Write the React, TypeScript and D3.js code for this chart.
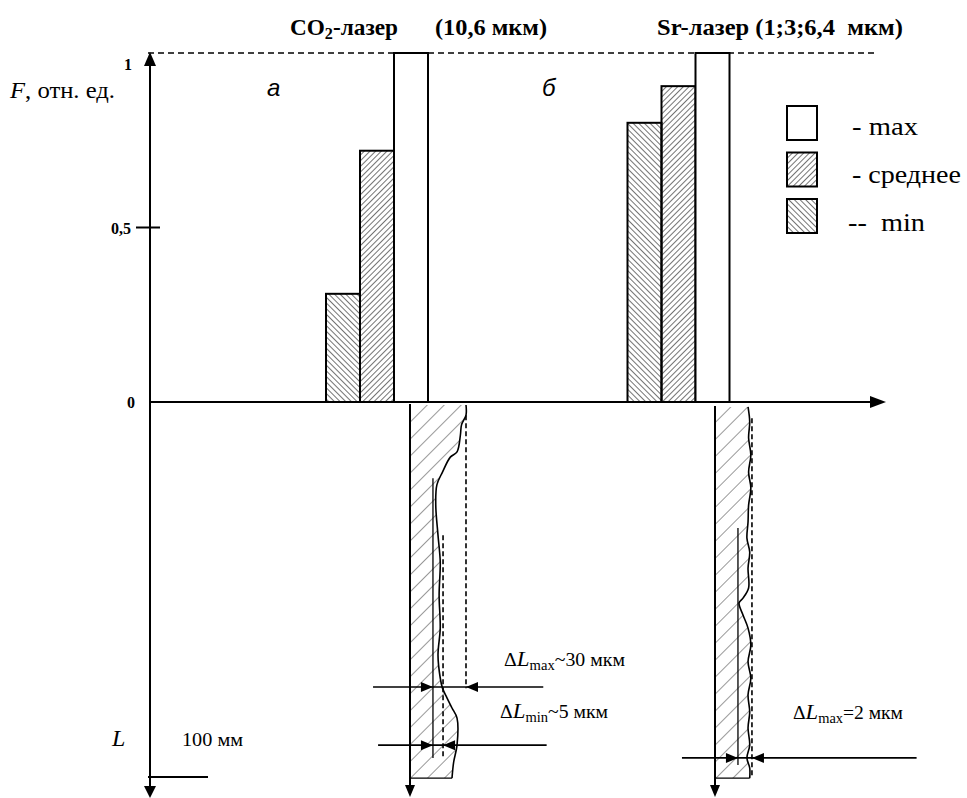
import * as d3 from 'd3';

const W = 967;
const H = 798;

// bar chart data (F, relative units)
const lasers = ['CO2', 'Sr'];
const series = ['min', 'avg', 'max'];
const minValues = [0.31, 0.8];
const avgValues = [0.72, 0.905];
const maxValues = [1, 1];
const yTicks = [0, 0.5, 1];
const yTickLabels = ['0', '0,5', '1'];
const panelLetters = ['а', 'б'];
const legendKeys = ['max', 'avg', 'min'];
const legendLabels = ['- max', '- среднее', '--  min'];

// cut profiles: [depth, offset from wall in мкм]
const profileA = [
  [0.8, 50], [3.5, 50], [6.1, 46], [8.8, 45], [13.3, 42], [14.7, 36], [18.7, 29],
  [22.1, 24], [27.5, 23], [35.5, 25], [42.7, 27], [51.5, 26], [60.3, 27], [67.5, 25],
  [73.6, 27], [76.3, 29], [78.9, 33], [81.6, 37.5], [84.3, 42], [91.5, 42], [96, 39], [100.3, 37.5],
];
const profileB = [
  [1.3, 29.5], [5.3, 31], [9.6, 30], [14.1, 32], [18.7, 30], [22.9, 32], [27.5, 30],
  [32, 29.5], [36.3, 28.5], [40, 31], [44.3, 29.5], [49.6, 30], [52.3, 25], [53.6, 21.5],
  [56.8, 25], [60.3, 29.5], [64.8, 32], [69.3, 29.5], [73.6, 32], [78.1, 29.5], [82.7, 31],
  [86.9, 29.5], [91.5, 31], [94.9, 28.5], [97.6, 31], [100.3, 31],
];
// guide lines: [offset, depth from, depth to, dashed]
const guidesA = [[50, 3.5, 76.3, 1], [20.5, 20.3, 94.9, 0], [29.5, 35.5, 94.7, 1]];
const guidesB = [[33, 4.3, 100.3, 1], [20.5, 33.6, 96.8, 0]];
// measurement lines: [depth, from, to, right arrow tip, left arrow tip]
const measA = [[76, -33, 119, 20.5, 50], [91.5, -28.5, 122, 20.5, 29.5]];
const measB = [[94.9, -29.5, 180, 20.5, 33]];

const serif = '"Liberation Serif", "Times New Roman", Times, serif';
const sans = '"Liberation Sans", Arial, sans-serif';

const y = d3.scaleLinear().domain([0, 1]).range([402, 53]);
const xGroup = d3.scalePoint().domain(lasers).range([377, 678.5]);
const xInner = d3.scaleBand().domain(series).range([-51, 51]);
const depth = d3.scaleLinear().domain([0, 100]).range([402, 777]);
const lat = d3.scaleLinear().domain([0, 50]).range([0, 56]);
const wallX = d3.scalePoint().domain(lasers).range([410, 715]);

const fills: Record<string, string> = { max: 'white', avg: 'url(#hatchAvg)', min: 'url(#hatchMin)' };

const tri = (x: number, yy: number, dir: number, len = 12, hw = 5) =>
  `${x},${yy} ${x - dir * len},${yy - hw} ${x - dir * len},${yy + hw}`;
const triV = (x: number, yy: number, dir: number, len = 12, hw = 5) =>
  `${x},${yy} ${x - hw},${yy - dir * len} ${x + hw},${yy - dir * len}`;

function Section({ id, wall, profile, guides, meas }: any) {
  const line = d3.line<number[]>()
    .x(d => wall + lat(d[1]))
    .y(d => depth(d[0]))
    .curve(d3.curveCatmullRom);
  const first = profile[0];
  const last = profile[profile.length - 1];
  const area = d3.area<number[]>()
    .x0(wall)
    .x1(d => wall + lat(d[1]))
    .y(d => depth(d[0]))
    .curve(d3.curveCatmullRom);
  return (
    <g>
      <clipPath id={id}>
        <path d={area(profile) || ''} />
      </clipPath>
      <rect x={wall} y={depth(first[0])} width={80} height={depth(last[0]) - depth(first[0])}
        fill="url(#hatchWide)" clipPath={`url(#${id})`} />
      <path d={line(profile) || ''} fill="none" stroke="#000" strokeWidth={1.6} />
      <line x1={wall} x2={wall + lat(last[1])} y1={depth(last[0])} y2={depth(last[0])} stroke="#000" strokeWidth={1.2} />
      <line x1={wall} x2={wall} y1={depth(first[0]) - 1} y2={788} stroke="#000" strokeWidth={2} />
      <polygon points={triV(wall, 797, 1)} fill="#000" />
      {guides.map((g: number[], i: number) => (
        <line key={i} x1={wall + lat(g[0])} x2={wall + lat(g[0])} y1={depth(g[1])} y2={depth(g[2])}
          stroke="#000" strokeWidth={g[3] ? 1.6 : 1.3} strokeDasharray={g[3] ? '5,3' : undefined} />
      ))}
      {meas.map((m: number[], i: number) => (
        <g key={i}>
          <line x1={wall + lat(m[1])} x2={wall + lat(m[2])} y1={depth(m[0])} y2={depth(m[0])} stroke="#000" strokeWidth={1.6} />
          <polygon points={tri(wall + lat(m[3]), depth(m[0]), 1)} fill="#000" />
          <polygon points={tri(wall + lat(m[4]), depth(m[0]), -1)} fill="#000" />
        </g>
      ))}
    </g>
  );
}

export default function App() {
  const values: Record<string, number[]> = { min: minValues, avg: avgValues, max: maxValues };
  const letterX = [267, 542];
  return (
    <svg width={W} height={H} style={{ position: 'absolute', left: 0, top: 0, background: 'white' }}>
      <defs>
        <pattern id="hatchAvg" patternUnits="userSpaceOnUse" width={4} height={4} patternTransform="rotate(45)">
          <line x1={0} y1={0} x2={0} y2={4} stroke="#000" strokeWidth={1.1} />
        </pattern>
        <pattern id="hatchMin" patternUnits="userSpaceOnUse" width={4} height={4} patternTransform="rotate(-45)">
          <line x1={0} y1={0} x2={0} y2={4} stroke="#000" strokeWidth={1.1} />
        </pattern>
        <pattern id="hatchWide" patternUnits="userSpaceOnUse" width={12} height={12} patternTransform="rotate(45)">
          <line x1={0} y1={0} x2={0} y2={12} stroke="#000" strokeWidth={0.8} />
        </pattern>
      </defs>

      {/* titles */}
      <text x={290} y={35} fontFamily={serif} fontWeight="bold" fontSize={23} textLength={108} lengthAdjust="spacingAndGlyphs">
        CO<tspan fontSize={16} dy={4}>2</tspan><tspan dy={-4}>-лазер</tspan>
      </text>
      <text x={435} y={35} fontFamily={serif} fontWeight="bold" fontSize={23} textLength={112} lengthAdjust="spacingAndGlyphs">(10,6 мкм)</text>
      <text x={657} y={35} fontFamily={serif} fontWeight="bold" fontSize={23} textLength={246} lengthAdjust="spacingAndGlyphs"
        style={{ whiteSpace: 'pre' }}>Sr-лазер (1;3;6,4  мкм)</text>

      {/* max level */}
      <line x1={148} x2={877} y1={y(1)} y2={y(1)} stroke="#000" strokeWidth={1.4} strokeDasharray="6,4" />

      {/* axes */}
      <line x1={150} x2={150} y1={62} y2={790} stroke="#000" strokeWidth={2} />
      <polygon points={triV(150, 52, -1, 14, 6)} fill="#000" />
      <polygon points={triV(150, 798, 1, 12, 6)} fill="#000" />
      <line x1={150} x2={875} y1={y(0)} y2={y(0)} stroke="#000" strokeWidth={2} />
      <polygon points={tri(886, y(0), 1, 16, 6)} fill="#000" />
      <line x1={136} x2={160} y1={y(0.5)} y2={y(0.5)} stroke="#000" strokeWidth={2} />
      {yTicks.map((t, i) => (
        <text key={t} x={t === 1 ? 132 : t === 0 ? 135 : 131} y={y(t) + (t === 1 ? 17 : 6)} textAnchor="end"
          fontFamily={serif} fontWeight="bold" fontSize={16}>{yTickLabels[i]}</text>
      ))}
      <text x={10} y={98} fontFamily={serif} fontSize={24} textLength={105} lengthAdjust="spacingAndGlyphs">
        <tspan fontStyle="italic">F</tspan>, отн. ед.
      </text>
      <text x={112} y={746} fontFamily={serif} fontSize={24} fontStyle="italic">L</text>
      <text x={182} y={746} fontFamily={serif} fontSize={19} textLength={61} lengthAdjust="spacingAndGlyphs">100 мм</text>
      <line x1={148} x2={208} y1={depth(100)} y2={depth(100)} stroke="#000" strokeWidth={2} />

      {lasers.map((l, i) => (
        <text key={l} x={letterX[i]} y={96} fontFamily={sans} fontStyle="italic" fontSize={24}>
          {panelLetters[i]}
        </text>
      ))}

      {/* bars */}
      {lasers.map((l, i) =>
        series.map(s => (
          <rect key={l + s}
            x={(xGroup(l) as number) + (xInner(s) as number)}
            y={y(values[s][i])}
            width={xInner.bandwidth()}
            height={y(0) - y(values[s][i])}
            fill={fills[s]} stroke="#000" strokeWidth={2} />
        ))
      )}

      {/* legend */}
      {legendKeys.map((k, i) => (
        <g key={k}>
          <rect x={787} y={106 + i * 46.5} width={30} height={34} fill={fills[k]} stroke="#000" strokeWidth={2} />
          <text x={i === 2 ? 848 : 852} y={135 + i * 48} fontFamily={serif} fontSize={26}
            textLength={[66, 109, 77][i]} lengthAdjust="spacingAndGlyphs" style={{ whiteSpace: 'pre' }}>
            {legendLabels[i]}
          </text>
        </g>
      ))}

      {/* cut profiles */}
      <Section id="clipA" wall={wallX('CO2')} profile={profileA} guides={guidesA} meas={measA} />
      <Section id="clipB" wall={wallX('Sr')} profile={profileB} guides={guidesB} meas={measB} />

      <text x={504} y={666} fontFamily={serif} fontSize={19} textLength={121} lengthAdjust="spacingAndGlyphs">
        Δ<tspan fontStyle="italic" fontSize={22}>L</tspan><tspan fontSize={14} dy={4}>max</tspan>
        <tspan dy={-4}>~30 мкм</tspan>
      </text>
      <text x={500} y={718} fontFamily={serif} fontSize={19} textLength={108} lengthAdjust="spacingAndGlyphs">
        Δ<tspan fontStyle="italic" fontSize={22}>L</tspan><tspan fontSize={14} dy={4}>min</tspan>
        <tspan dy={-4}>~5 мкм</tspan>
      </text>
      <text x={793} y={719} fontFamily={serif} fontSize={19} textLength={110} lengthAdjust="spacingAndGlyphs">
        Δ<tspan fontStyle="italic" fontSize={22}>L</tspan><tspan fontSize={14} dy={4}>max</tspan>
        <tspan dy={-4}>=2 мкм</tspan>
      </text>
    </svg>
  );
}
